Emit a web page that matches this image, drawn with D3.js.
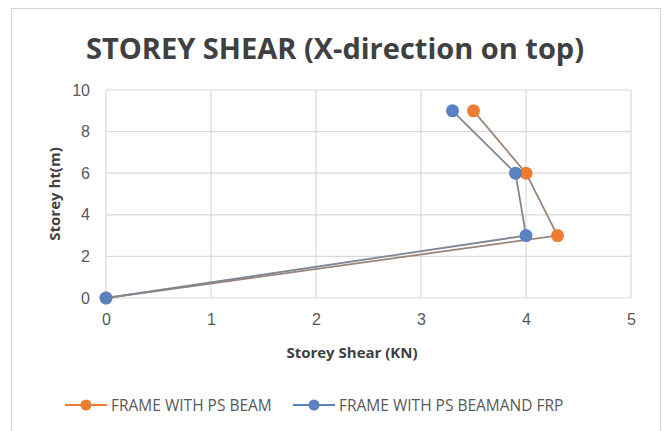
<!DOCTYPE html>
<html>
<head>
<meta charset="utf-8">
<script src="https://cdn.jsdelivr.net/npm/d3@7"></script>
<style>
  body { margin: 0; background: #fff; }
  svg { font-family: "Open Sans", "Liberation Sans", sans-serif; }
</style>
</head>
<body>
<script>
// Data
const heights = [0, 3, 6, 9];
const psBeam = [0, 4.3, 4.0, 3.5];
const psBeamFrp = [0, 4.0, 3.9, 3.3];
const xTicks = [0, 1, 2, 3, 4, 5];
const yTicks = [0, 2, 4, 6, 8, 10];
const seriesNames = ["FRAME WITH PS BEAM", "FRAME WITH PS BEAMAND FRP"];

const width = 666;
const height = 431;
const margin = { top: 90, right: 35, bottom: 133, left: 106 };
const plotW = width - margin.left - margin.right;
const plotH = height - margin.top - margin.bottom;

const series = [
  { name: seriesNames[0], values: psBeam, color: "#ed7d31", line: "#9a857a" },
  { name: seriesNames[1], values: psBeamFrp, color: "#5b82c0", line: "#7f8794" },
];

const svg = d3
  .select("body")
  .append("svg")
  .attr("width", width)
  .attr("height", height);

// chart border
svg
  .append("rect")
  .attr("x", 11.5)
  .attr("y", 8.5)
  .attr("width", 649)
  .attr("height", 440)
  .attr("fill", "#fff")
  .attr("stroke", "#d4d4d4");

const g = svg
  .append("g")
  .attr("transform", `translate(${margin.left},${margin.top})`);

const xScale = d3.scaleLinear().domain([0, 5]).range([0, plotW]);
const yScale = d3.scaleLinear().domain([0, 10]).range([plotH, 0]);

// gridlines
g.selectAll(".hgrid")
  .data(yTicks)
  .enter()
  .append("line")
  .attr("x1", 0)
  .attr("x2", plotW)
  .attr("y1", (d) => yScale(d))
  .attr("y2", (d) => yScale(d))
  .attr("stroke", "#d9d9d9")
  .attr("stroke-width", 1.2);

g.selectAll(".vgrid")
  .data(xTicks)
  .enter()
  .append("line")
  .attr("y1", 0)
  .attr("y2", plotH)
  .attr("x1", (d) => xScale(d))
  .attr("x2", (d) => xScale(d))
  .attr("stroke", "#d9d9d9")
  .attr("stroke-width", 1.2);

// axes (labels only)
const xAxis = d3
  .axisBottom(xScale)
  .tickValues(xTicks)
  .tickFormat(d3.format("d"))
  .tickSize(0)
  .tickPadding(16);
const yAxis = d3
  .axisLeft(yScale)
  .tickValues(yTicks)
  .tickFormat(d3.format("d"))
  .tickSize(0)
  .tickPadding(16);

g.append("g")
  .attr("transform", `translate(0,${plotH})`)
  .call(xAxis)
  .call((a) => a.select(".domain").remove())
  .selectAll("text")
  .attr("fill", "#595959")
  .style("font-size", "16px");

g.append("g")
  .call(yAxis)
  .call((a) => a.select(".domain").remove())
  .selectAll("text")
  .attr("fill", "#595959")
  .style("font-size", "16px");

// titles
svg
  .append("text")
  .attr("x", 335)
  .attr("y", 59)
  .attr("text-anchor", "middle")
  .attr("fill", "#404040")
  .style("font-size", "29px")
  .style("font-weight", "bold")
  .text("STOREY SHEAR (X-direction on top)");

svg
  .append("text")
  .attr("x", 352)
  .attr("y", 358)
  .attr("text-anchor", "middle")
  .attr("fill", "#404040")
  .style("font-size", "15px")
  .style("font-weight", "bold")
  .text("Storey Shear (KN)");

svg
  .append("text")
  .attr("transform", `translate(60,${margin.top + plotH / 2}) rotate(-90)`)
  .attr("text-anchor", "middle")
  .attr("fill", "#404040")
  .style("font-size", "15px")
  .style("font-weight", "bold")
  .text("Storey ht(m)");

// lines and markers
const line = d3
  .line()
  .x((d) => xScale(d[0]))
  .y((d) => yScale(d[1]));

series.forEach((s) => {
  const pts = s.values.map((v, i) => [v, heights[i]]);
  g.append("path")
    .datum(pts)
    .attr("d", line)
    .attr("fill", "none")
    .attr("stroke", s.line)
    .attr("stroke-width", 1.8);
});

series.forEach((s) => {
  const pts = s.values.map((v, i) => [v, heights[i]]);
  g.selectAll(null)
    .data(pts)
    .enter()
    .append("circle")
    .attr("cx", (d) => xScale(d[0]))
    .attr("cy", (d) => yScale(d[1]))
    .attr("r", 6.5)
    .attr("fill", s.color);
});

// legend
const legendX = [65, 293];
const legend = svg.append("g").attr("transform", "translate(0,405)");
series.forEach((s, i) => {
  const lg = legend.append("g").attr("transform", `translate(${legendX[i]},0)`);
  lg.append("line")
    .attr("x1", 0)
    .attr("x2", 42)
    .attr("stroke", s.color)
    .attr("stroke-width", 2);
  lg.append("circle").attr("cx", 21).attr("r", 5.5).attr("fill", s.color);
  lg.append("text")
    .attr("x", 46)
    .attr("y", 5.5)
    .attr("fill", "#595959")
    .style("font-size", "15.5px")
    .text(s.name);
});
</script>
</body>
</html>
